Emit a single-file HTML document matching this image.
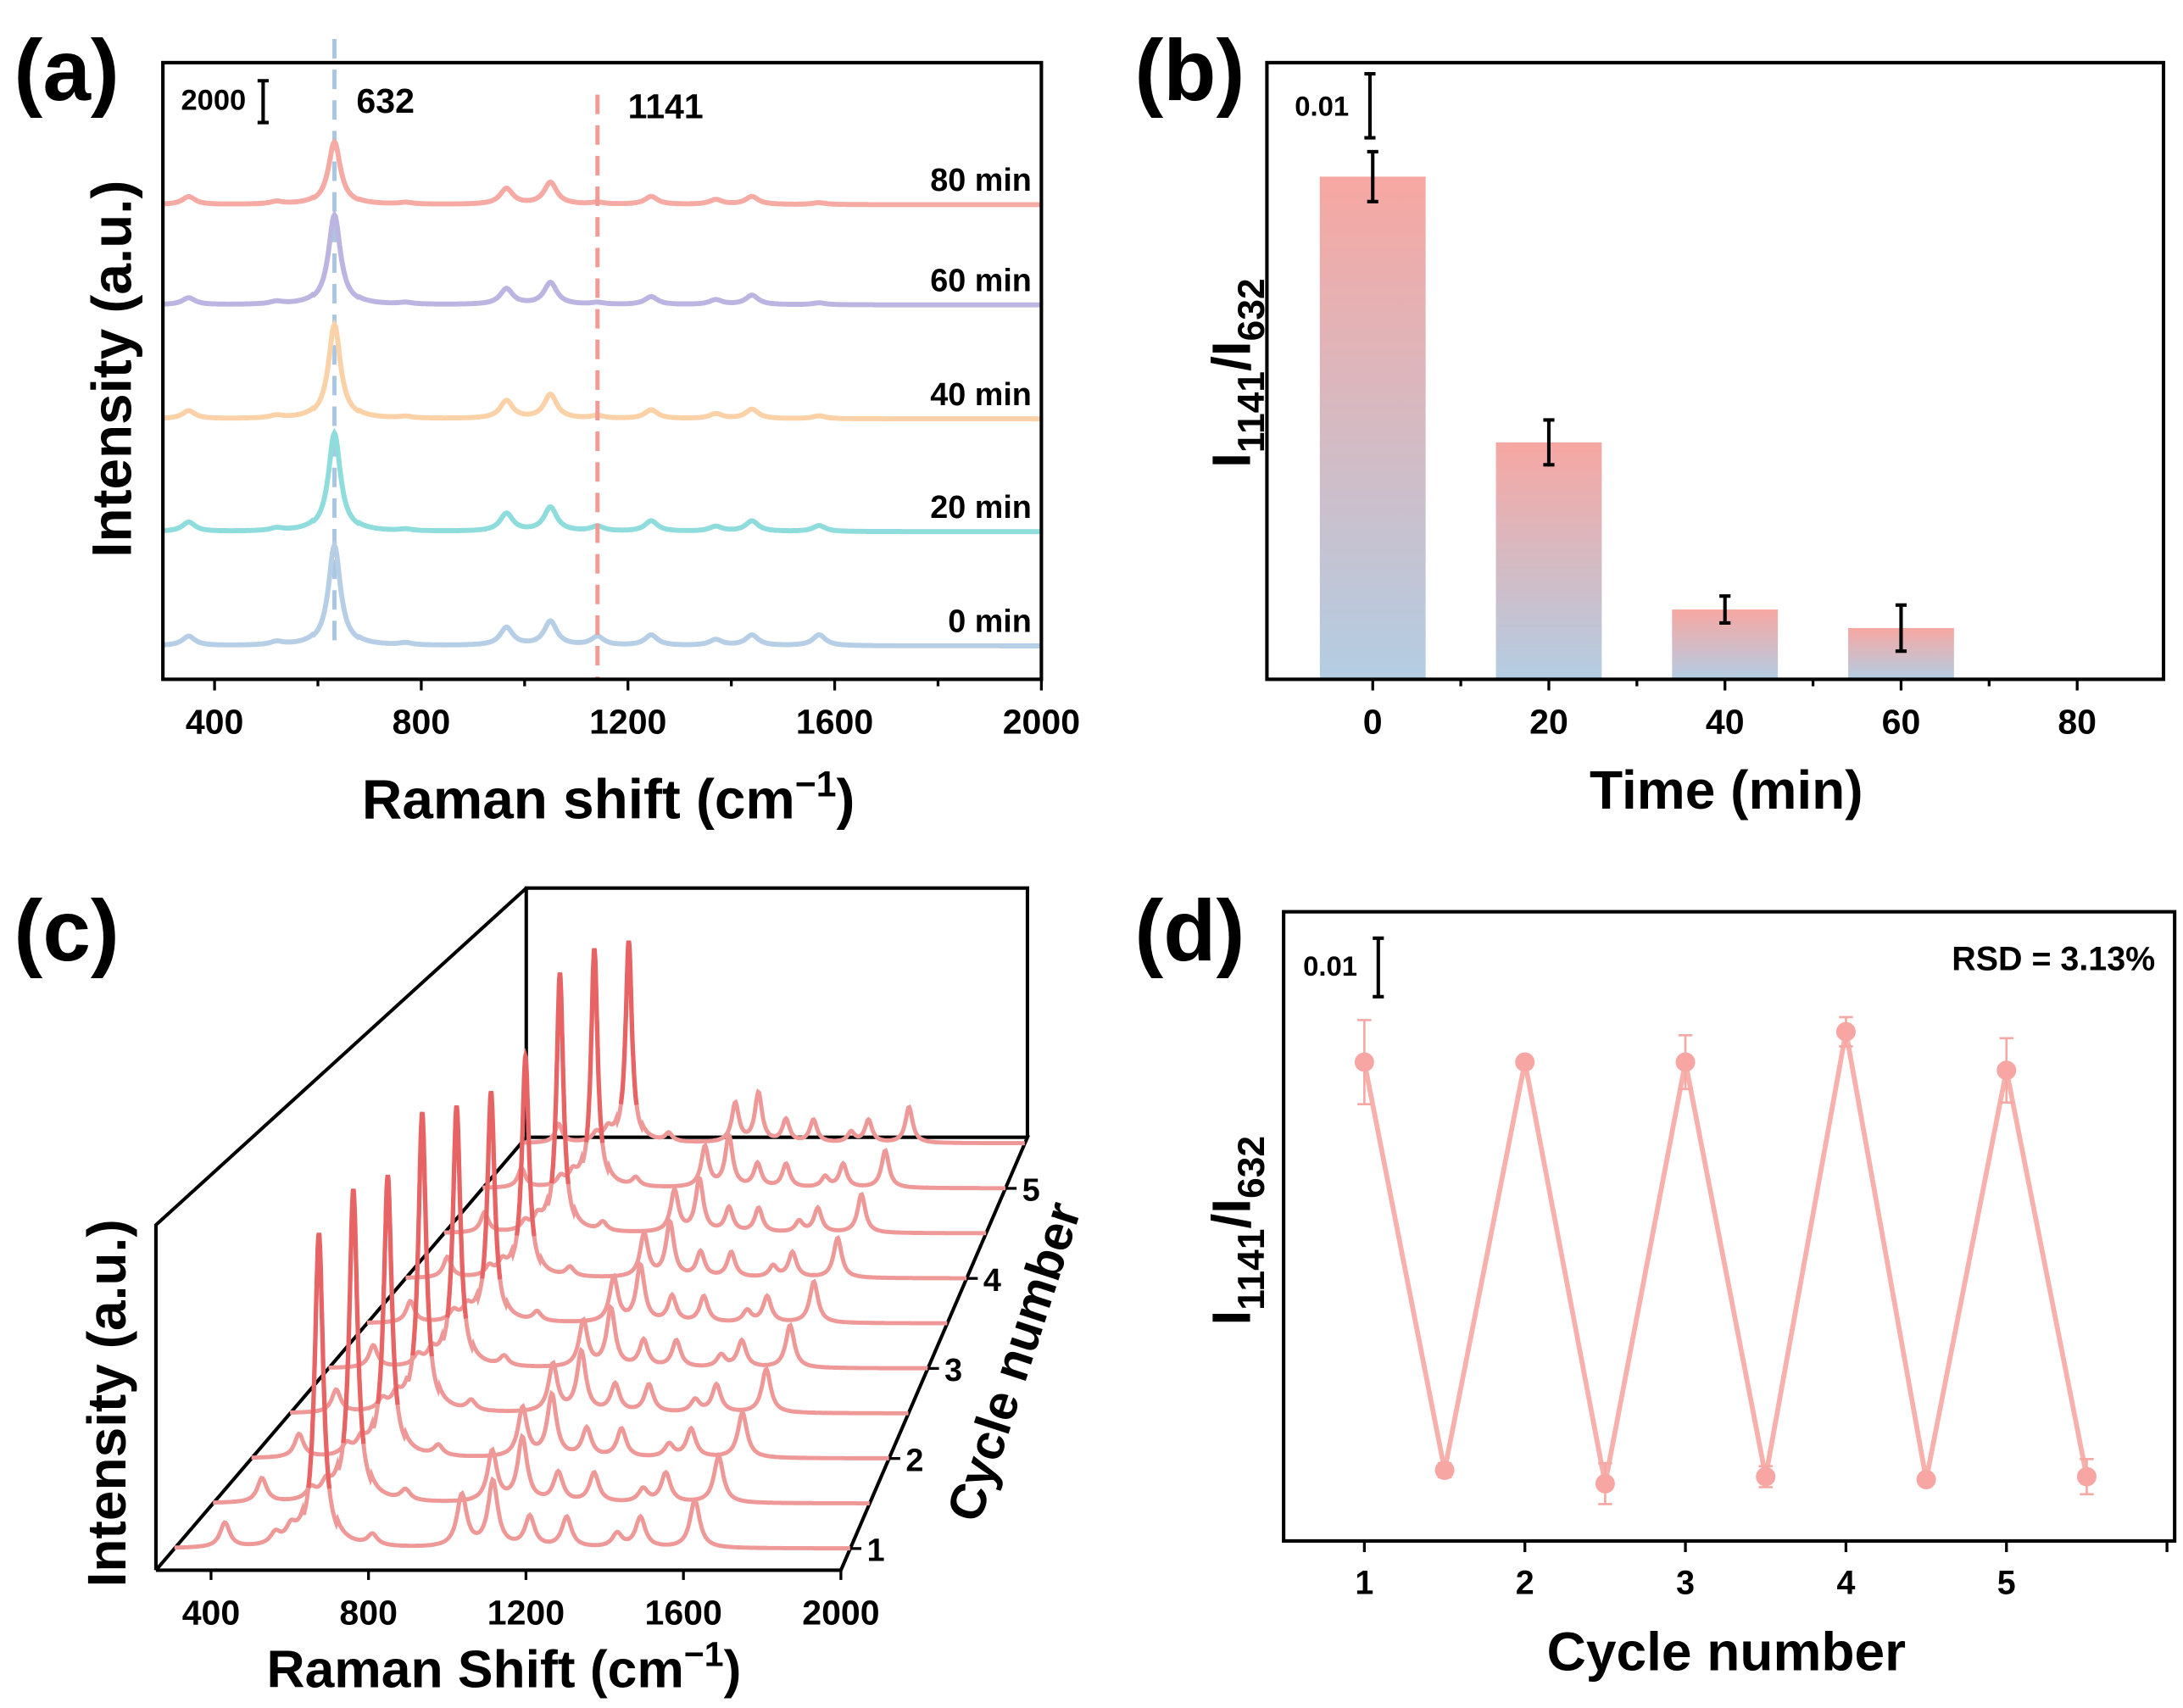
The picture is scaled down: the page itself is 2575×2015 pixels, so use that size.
<!DOCTYPE html>
<html><head><meta charset="utf-8"><style>
html,body{margin:0;padding:0;background:#fff;}
svg{display:block;font-family:"Liberation Sans Narrow","Liberation Sans",Arial,sans-serif;font-weight:bold;}
</style></head><body>
<svg id="fig" width="2575" height="2015" viewBox="0 0 1568 1227" preserveAspectRatio="none" xmlns="http://www.w3.org/2000/svg">
<defs>
<linearGradient id="barGrad" x1="0" y1="0" x2="0" y2="1">
<stop offset="0" stop-color="#f7a7a2"/><stop offset="1" stop-color="#b3cde3"/>
</linearGradient>
</defs>
<g id="pa"></g>
<g id="pb"></g>
<g id="pc"></g>
<g id="pd"></g>
</svg>
<script>
// ---------- Panel (a) data ----------
const aLabels = ["0 min","20 min","40 min","60 min","80 min"];
const aOffsets = [1600, 7070, 12470, 17930, 22730];
const aPeakPos = [350, 520, 632, 770, 965, 1050, 1141, 1245, 1370, 1440, 1570];
const aPeakH0 = [450, 150, 4800, 100, 850, 1150, 420, 500, 280, 500, 520];
const aPeakH20 = [450, 120, 4700, 80, 850, 1150, 230, 500, 230, 500, 280];
const aPeakH40 = [380, 120, 4500, 80, 850, 1150, 130, 420, 230, 450, 140];
const aPeakH60 = [330, 120, 4300, 80, 750, 1050, 90, 380, 230, 450, 90];
const aPeakH80 = [380, 120, 3000, 80, 750, 1050, 90, 380, 230, 380, 90];
const aTicks = [400, 800, 1200, 1600, 2000];
// ---------- Panel (b) data ----------
const bTimes = [0, 20, 40, 60];
const bValues = [0.0785, 0.037, 0.0109, 0.008];
const bErrors = [0.0039, 0.0035, 0.0021, 0.0036];
const bTicks = [0, 20, 40, 60, 80];
// ---------- Panel (c) data ----------
const cPeakPos = [390, 520, 560, 632, 770, 1000, 1080, 1175, 1270, 1400, 1460, 1600];
const cMainH = [229, 235, 218, 239, 215, 196, 194, 236, 225, 197];
const cPeakH = [18, 8, 10, 1, 8, 38, 48, 22, 22, 10, 22, 35];
const cTicks = [400, 800, 1200, 1600, 2000];
const cCycleTicks = [1, 2, 3, 4, 5];
// ---------- Panel (d) data ----------
const dX = [1, 1.5, 2, 2.5, 3, 3.5, 4, 4.5, 5, 5.5];
const dY = [0.0819, 0.0121, 0.0819, 0.0098, 0.0819, 0.0110, 0.0871, 0.0105, 0.0805, 0.0110];
const dErr = [0.0072, 0.0012, 0.0010, 0.0035, 0.0046, 0.0018, 0.0025, 0.0008, 0.0055, 0.0030];
const dTicks = [1, 2, 3, 4, 5];

const NS = "http://www.w3.org/2000/svg";
function mk(parent, tag, attrs, text){
  const e = document.createElementNS(NS, tag);
  for (const k in attrs) e.setAttribute(k, attrs[k]);
  if (text !== undefined) e.textContent = text;
  parent.appendChild(e);
  return e;
}
function lor(w, pos, h, hw){ let s=0; for(let i=0;i<pos.length;i++){ const d=(w-pos[i])/hw; s+=h[i]/(1+d*d);} return s; }

// ================= Panel A =================
(function(){
  const g = document.getElementById('pa');
  const L=117,R=748,T=45,B=488, xmin=300,xmax=2000;
  const xs = v => L + (v-xmin)/(xmax-xmin)*(R-L);
  const ys = v => B - v*0.015;
  const cols = ["#b7cfe6","#8fdcdc","#fbd2a8","#bcb5e2","#f5aaa4"];
  const H = [aPeakH0,aPeakH20,aPeakH40,aPeakH60,aPeakH80];
  let t = mk(g,'text',{x:10,y:72,'font-size':62,'font-family':'Liberation Sans,sans-serif'},'(a)');
   
  let d1 = mk(g,'line',{x1:xs(632),x2:xs(632),y1:28,y2:465,stroke:'#a9c6e2','stroke-width':3,'stroke-dasharray':'14 8'});
   
  for(let i=0;i<5;i++){
    let p='';
    for(let w=xmin; w<=xmax; w+=2){ const y=ys(aOffsets[i]+lor(w,aPeakPos,H[i],w>590&&w<680?14:15)); p+=(w===xmin?'M':'L')+xs(w).toFixed(1)+','+y.toFixed(1); }
    const e=mk(g,'path',{d:p,fill:'none',stroke:cols[i],'stroke-width':3.6});
     
    const lb=mk(g,'text',{x:741,y:ys(aOffsets[i])-10,'text-anchor':'end','font-size':23},aLabels[i]);
     
  }
  let d2 = mk(g,'line',{x1:xs(1141),x2:xs(1141),y1:68,y2:488,stroke:'#f29a94','stroke-width':3,'stroke-dasharray':'14 8'});
   
  let box=mk(g,'rect',{x:L,y:T,width:R-L,height:B-T,fill:'none',stroke:'#000','stroke-width':2.5});
   
  for(let v=400; v<=2000; v+=200){
    mk(g,'line',{x1:xs(v),x2:xs(v),y1:B,y2:B+(v%400===0?8:5),stroke:'#000','stroke-width':2});
  }
  aTicks.forEach(v=>{ const e=mk(g,'text',{x:xs(v),y:527,'text-anchor':'middle','font-size':25},String(v));
      });
  let sb=mk(g,'text',{x:130,y:79,'font-size':21},'2000');  
  mk(g,'path',{d:'M189,58V88M185,58H193M185,88H193',stroke:'#000','stroke-width':2.5,fill:'none'});
  let l1=mk(g,'text',{x:256,y:81,'font-size':25},'632');  
  let l2=mk(g,'text',{x:451,y:85,'font-size':25},'1141');  
  let yt=mk(g,'text',{x:0,y:0,transform:'translate(94,265) rotate(-90)','text-anchor':'middle','font-size':40,'font-family':'Liberation Sans,sans-serif'},'Intensity (a.u.)');
   
  let xt=mk(g,'text',{x:437,y:588,'text-anchor':'middle','font-size':40,'font-family':'Liberation Sans,sans-serif'});
   
  xt.innerHTML='Raman shift (cm<tspan dy="-16" font-size="26">−1</tspan><tspan dy="16">)</tspan>';
})();

// ================= Panel B =================
(function(){
  const g=document.getElementById('pb');
  const L=910,R=1554,T=45,B=488;
  const xs=v=>986+(v/20)*126.5;
  const ys=v=>B-v*4600;
  let t=mk(g,'text',{x:815,y:72,'font-size':62,'font-family':'Liberation Sans,sans-serif'},'(b)');
   
  for(let i=0;i<bTimes.length;i++){
    const x=xs(bTimes[i]), y=ys(bValues[i]);
    const r=mk(g,'rect',{x:x-38,y:y,width:76,height:B-y,fill:'url(#barGrad)'});
     
    const y1=ys(bValues[i]+bErrors[i]), y2=ys(bValues[i]-bErrors[i]);
    const e=mk(g,'path',{d:`M${x},${y1}V${y2}M${x-4},${y1}H${x+4}M${x-4},${y2}H${x+4}`,stroke:'#000','stroke-width':2.5,fill:'none'});
     
  }
  let box=mk(g,'rect',{x:L,y:T,width:R-L,height:B-T,fill:'none',stroke:'#000','stroke-width':2.5});
   
  bTicks.forEach(v=>{ mk(g,'line',{x1:xs(v),x2:xs(v),y1:B,y2:B+8,stroke:'#000','stroke-width':2});
    const e=mk(g,'text',{x:xs(v),y:527,'text-anchor':'middle','font-size':25},String(v));
      });
  for(let v=10; v<90; v+=20) mk(g,'line',{x1:xs(v),x2:xs(v),y1:B,y2:B+5,stroke:'#000','stroke-width':2});
  let sb=mk(g,'text',{x:930,y:83,'font-size':20},'0.01');  
  mk(g,'path',{d:'M984,53V99M980,53H988M980,99H988',stroke:'#000','stroke-width':2.5,fill:'none'});
  let yt=mk(g,'text',{transform:'translate(898,268) rotate(-90)','text-anchor':'middle','font-size':39,'font-family':'Liberation Sans,sans-serif'});
  yt.innerHTML='I<tspan dy="10" font-size="27">1141</tspan><tspan dy="-10">/I</tspan><tspan dy="10" font-size="27">632</tspan>';
   
  let xt=mk(g,'text',{x:1240,y:581,'text-anchor':'middle','font-size':39,'font-family':'Liberation Sans,sans-serif'},'Time (min)');
   
})();

// ================= Panel C =================
(function(){
  const g=document.getElementById('pc');
  const xmin=260,xmax=2000;
  const FL=112,FR=604,FB=1128, BL=378,BR=738,BB=817;
  const left=t=>FL+(BL-FL)*t, right=t=>FR+(BR-FR)*t, base=t=>FB+(BB-FB)*t;
  const P=(w,h,t)=>{ const l=left(t), r=right(t), s=(r-l)/(FR-FL); return [l+(w-xmin)/(xmax-xmin)*(r-l), base(t)-h*s]; };
  let t=mk(g,'text',{x:10,y:690,'font-size':62,'font-family':'Liberation Sans,sans-serif'},'(c)');
   
  const fr=mk(g,'path',{d:`M${FL},${FB}H${FR}L${BR},${BB}H${BL}V638H${BR}V${BB}M${FL},${FB}V880L${BL},638M${FL},${FB}L${BL},${BB}`,fill:'none',stroke:'#000','stroke-width':2.5,'stroke-linejoin':'miter'});
   
  const n=cMainH.length;
  for(let i=n-1;i>=0;i--){
    const tt=0.05+i*0.104;
    const hs=cPeakH.slice(); hs[3]=cMainH[i];
    const f=w=>P(w,lor(w,cPeakPos,hs,w>590&&w<680?13:15),tt);
    let p='';
    for(let w=xmin; w<=xmax; w+=3){ const q=f(w); p+=(w===xmin?'M':'L')+q[0].toFixed(1)+','+q[1].toFixed(1); }
    const e=mk(g,'path',{d:p,fill:'none',stroke:'#ef9898','stroke-width':3});
     
    let pk='';
    for(let w=605; w<=659; w+=1){ const q=f(w); pk+=(w===605?'M':'L')+q[0].toFixed(1)+','+q[1].toFixed(1); }
    const e2=mk(g,'path',{d:pk,fill:'none',stroke:'#e86464','stroke-width':3.2});
     
  }
  cTicks.forEach(v=>{ const x=P(v,0,0)[0];
    mk(g,'line',{x1:x,x2:x,y1:FB,y2:FB+7,stroke:'#000','stroke-width':2});
    const e=mk(g,'text',{x:x,y:1167,'text-anchor':'middle','font-size':25},String(v));
      });
  cCycleTicks.forEach((c,k)=>{ const tt=0.05+k*2*0.104; const x=right(tt), y=base(tt);
    mk(g,'line',{x1:x,x2:x+8,y1:y,y2:y,stroke:'#000','stroke-width':2});
    const e=mk(g,'text',{x:x+12,y:y+9,'font-size':23},String(c));
      });
  let ct=mk(g,'text',{transform:'translate(740,982) rotate(-72)','text-anchor':'middle','font-size':36,'font-family':'Liberation Sans,sans-serif'},'Cycle number');
   
  let yt=mk(g,'text',{transform:'translate(90,1008) rotate(-90)','text-anchor':'middle','font-size':39,'font-family':'Liberation Sans,sans-serif'},'Intensity (a.u.)');
   
  let xt=mk(g,'text',{x:362,y:1212,'text-anchor':'middle','font-size':38,'font-family':'Liberation Sans,sans-serif'});
  xt.innerHTML='Raman Shift (cm<tspan dy="-15" font-size="25">−1</tspan><tspan dy="15">)</tspan>';
   
})();

// ================= Panel D =================
(function(){
  const g=document.getElementById('pd');
  const L=922,R=1562,T=655,B=1107;
  const xs=v=>980+(v-1)*115.3;
  const ys=v=>B-v*4200;
  let t=mk(g,'text',{x:815,y:690,'font-size':62,'font-family':'Liberation Sans,sans-serif'},'(d)');
   
  let p=''; dX.forEach((x,i)=>{ p+=(i?'L':'M')+xs(x)+','+ys(dY[i]); });
  const ln=mk(g,'path',{d:p,fill:'none',stroke:'#f7b0ac','stroke-width':3.5});
   
  dX.forEach((x,i)=>{
    const cx=xs(x), y1=ys(dY[i]+dErr[i]), y2=ys(dY[i]-dErr[i]);
    const e=mk(g,'path',{d:`M${cx},${y1}V${y2}M${cx-5},${y1}H${cx+5}M${cx-5},${y2}H${cx+5}`,stroke:'#f5a8a4','stroke-width':1.6,fill:'none'});
     
    const c=mk(g,'circle',{cx:cx,cy:ys(dY[i]),r:7,fill:'#f7a6a3'});
     
  });
  let box=mk(g,'rect',{x:L,y:T,width:R-L,height:B-T,fill:'none',stroke:'#000','stroke-width':2.5});
   
  for(let v=1; v<=6; v+=1){ if(xs(v)<R) mk(g,'line',{x1:xs(v),x2:xs(v),y1:B,y2:B+8,stroke:'#000','stroke-width':2}); }
  dTicks.forEach(v=>{ const e=mk(g,'text',{x:xs(v),y:1145,'text-anchor':'middle','font-size':24},String(v));
      });
  let sb=mk(g,'text',{x:936,y:701,'font-size':20},'0.01');  
  mk(g,'path',{d:'M990,674V716M986,674H994M986,716H994',stroke:'#000','stroke-width':2.5,fill:'none'});
  let rsd=mk(g,'text',{x:1548,y:697,'text-anchor':'end','font-size':24},'RSD = 3.13%');
   
  let yt=mk(g,'text',{transform:'translate(898,884) rotate(-90)','text-anchor':'middle','font-size':39,'font-family':'Liberation Sans,sans-serif'});
  yt.innerHTML='I<tspan dy="10" font-size="27">1141</tspan><tspan dy="-10">/I</tspan><tspan dy="10" font-size="27">632</tspan>';
   
  let xt=mk(g,'text',{x:1240,y:1200,'text-anchor':'middle','font-size':39,'font-family':'Liberation Sans,sans-serif'},'Cycle number');
   
})();
</script>
</body></html>
